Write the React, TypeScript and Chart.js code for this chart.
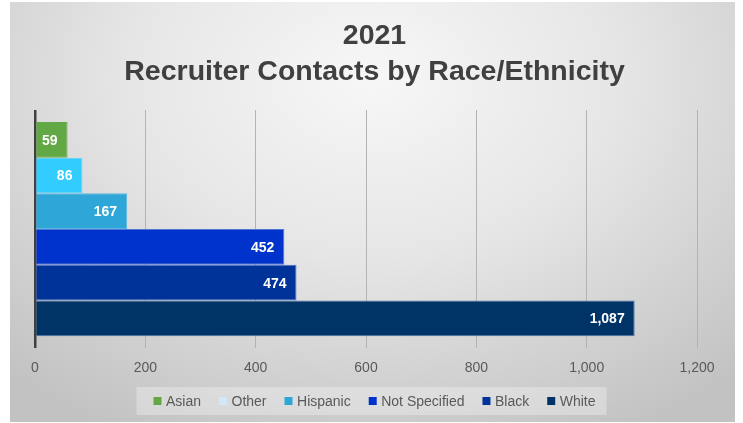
import React, { useEffect, useRef } from "react";
import { Chart, registerables } from "chart.js";

Chart.register(...registerables);

const categories = [""];
const seriesNames = ["Asian", "Other", "Hispanic", "Not Specified", "Black", "White"];
const seriesValues = [59, 86, 167, 452, 474, 1087];
const xTickValues = [0, 200, 400, 600, 800, 1000, 1200];
const titleLines = ["2021", "Recruiter Contacts by Race/Ethnicity"];

const barColors = ["#62a844", "#33ccff", "#2ea6d7", "#0033cc", "#003399", "#003366"];
const legendColors = ["#62a844", "#cde9fb", "#2ea6d7", "#0033cc", "#003399", "#003366"];
const borderColors = ["#62a844", "#5fd3ff", "#5ab8e0", "#4f72dc", "#4a72c8", "#4a70a8"];

const FONT = "'Liberation Sans', Arial, sans-serif";

const valueLabels = {
  id: "valueLabels",
  afterDatasetsDraw(chart: any) {
    const ctx = chart.ctx;
    ctx.save();
    ctx.font = `bold 14px ${FONT}`;
    ctx.fillStyle = "#ffffff";
    ctx.textAlign = "right";
    ctx.textBaseline = "middle";
    chart.data.datasets.forEach((ds: any, i: number) => {
      const meta = chart.getDatasetMeta(i);
      meta.data.forEach((el: any, j: number) => {
        const v = ds.data[j];
        ctx.fillText(Number(v).toLocaleString("en-US"), el.x - 10, el.y + 1);
      });
    });
    ctx.restore();
  },
};

const titleAndLegend = {
  id: "titleAndLegend",
  beforeDraw(chart: any) {
    const ctx = chart.ctx;
    const w = chart.width;
    ctx.save();
    // title
    ctx.font = `bold 28.5px ${FONT}`;
    ctx.fillStyle = "#404040";
    ctx.textAlign = "center";
    ctx.textBaseline = "alphabetic";
    ctx.fillText(titleLines[0], w / 2 + 2, 42);
    ctx.fillText(titleLines[1], w / 2 + 2, 78);

    // legend
    ctx.font = `14px ${FONT}`;
    const sw = 8;
    const gapText = 4.5;
    const gapItem = 18;
    const names: string[] = chart.data.datasets.map((d: any) => d.label);
    const widths = names.map((n) => ctx.measureText(n).width);
    const total =
      widths.reduce((a, b) => a + b, 0) + names.length * (sw + gapText) + (names.length - 1) * gapItem;
    const cy = 399;
    let x = w / 2 + 2 - total / 2;
    const startX = x;
    const endX = x + total;
    ctx.fillStyle = "rgba(255,255,255,0.3)";
    ctx.fillRect(startX - 17, cy - 14, endX - startX + 28, 28);
    ctx.textAlign = "left";
    ctx.textBaseline = "middle";
    names.forEach((n, i) => {
      ctx.fillStyle = legendColors[i];
      ctx.fillRect(x, cy - 4, sw, sw);
      x += sw + gapText;
      ctx.fillStyle = "#595959";
      ctx.fillText(n, x, cy + 1);
      x += widths[i] + gapItem;
    });
    ctx.restore();
  },
};

export default function App() {
  const canvasRef = useRef<HTMLCanvasElement | null>(null);

  useEffect(() => {
    if (!canvasRef.current) return;
    const chart = new Chart(canvasRef.current, {
      type: "bar",
      data: {
        labels: categories,
        datasets: seriesNames.map((name, i) => ({
          label: name,
          data: [seriesValues[i]],
          backgroundColor: barColors[i],
          borderColor: borderColors[i],
          borderWidth: 1,
          categoryPercentage: 0.9,
          barPercentage: 1,
        })),
      },
      options: {
        indexAxis: "y",
        animation: false,
        responsive: true,
        maintainAspectRatio: false,
        layout: { padding: { left: 25, right: 38, top: 108, bottom: 33 } },
        scales: {
          x: {
            min: 0,
            max: 1200,
            afterBuildTicks(scale: any) {
              scale.ticks = xTickValues.map((v) => ({ value: v }));
            },
            border: { display: false },
            grid: {
              drawTicks: false,
              color: (c: any) => (c.tick && c.tick.value === 0 ? "#404040" : "#b3b3b3"),
              lineWidth: (c: any) => (c.tick && c.tick.value === 0 ? 2.5 : 1),
            },
            ticks: {
              padding: 12,
              color: "#595959",
              font: { family: FONT, size: 14 },
              callback: (v: any) => Number(v).toLocaleString("en-US"),
            },
          },
          y: { display: false },
        },
        plugins: {
          title: { display: false },
          legend: { display: false },
          tooltip: { enabled: false },
        },
      },
      plugins: [valueLabels, titleAndLegend],
    });
    return () => chart.destroy();
  }, []);

  return (
    <div
      style={{
        position: "absolute",
        left: 10,
        top: 2,
        width: 725,
        height: 420,
        background:
          "radial-gradient(ellipse 75% 95% at 50% 18%, #f7f7f7 0%, #e6e6e6 45%, #cfcfcf 80%, #c2c2c2 100%)",
      }}
    >
      <canvas ref={canvasRef} />
    </div>
  );
}
